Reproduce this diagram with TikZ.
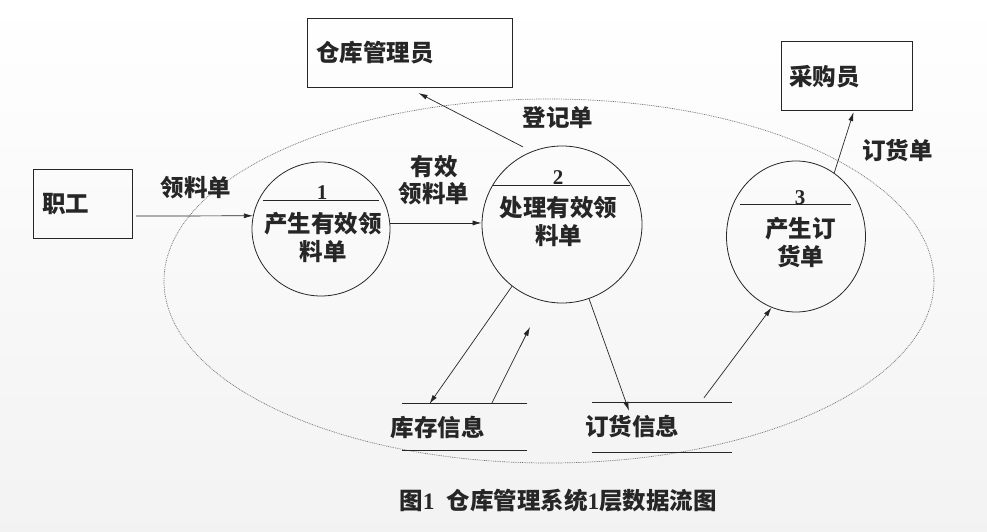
\documentclass[tikz,border=0pt]{standalone}
\usepackage{fontspec}
\setmainfont{Noto Sans CJK SC}
\newfontfamily\numfont{Liberation Serif}
\usetikzlibrary{arrows.meta,shapes.geometric}
\definecolor{ink}{HTML}{262626}
\begin{document}
\begin{tikzpicture}[x=1pt,y=-1pt,
  box/.style={draw=ink, line width=1.1pt, rectangle, inner sep=0pt},
  proc/.style={draw=ink, line width=0.8pt, ellipse, inner sep=0pt},
  flow/.style={draw=ink, line width=0.7pt, -{Latex[length=9pt,width=5pt]}},
  lbl/.style={font=\fontsize{23.5}{27}\selectfont\bfseries, text=ink, align=center, inner sep=0pt},
  ptxt/.style={font=\fontsize{23.5}{28}\selectfont\bfseries, text=ink, align=center, inner sep=0pt},
  num/.style={font=\numfont\fontsize{21}{21}\selectfont\bfseries, text=ink, inner sep=0pt},
  store/.style={rectangle, inner sep=0pt},
  sline/.style={draw=ink, line width=0.8pt}]
\useasboundingbox (0,0) rectangle (987,532);
\shade[top color=white, bottom color=black!5] (0,0) rectangle (987,532);

% system boundary
\draw[black!55, line width=0.7pt, dash pattern=on 0.9pt off 0.9pt] (549,281) ellipse [x radius=385, y radius=182];

% external entities
\node[box, minimum width=99, minimum height=69, anchor=north west] (zg) at (33,169) {};
\node[lbl, anchor=west] (zgt) at (42,204) {职工};
\node[box, minimum width=205, minimum height=69, anchor=north west] (wm) at (307,18) {};
\node[lbl, anchor=west] (wmt) at (316,53) {仓库管理员};
\node[box, minimum width=131, minimum height=69, anchor=north west] (cg) at (781,41) {};
\node[lbl, anchor=west] (cgt) at (789,77) {采购员};

% processes
\node[proc, minimum width=138, minimum height=134] (c1) at (321,229) {};
\draw[sline] (263,200) -- (379,200);
\node[num] (n1) at (322,193) {1};
\node[ptxt] (p1) at (323,237) {产生有效领\\料单};

\node[proc, minimum width=160, minimum height=157] (c2) at (562,224.5) {};
\draw[sline] (493,185) -- (630,185);
\node[num] (n2) at (558,178) {2};
\node[ptxt] (p2) at (558.5,221) {处理有效领\\料单};

\node[proc, minimum width=139, minimum height=151] (c3) at (796,236.5) {};
\draw[sline] (740,204) -- (851,204);
\node[num] (n3) at (800,198) {3};
\node[ptxt] (p3) at (800.5,243) {产生订\\货单};

% data stores
\node[store, minimum width=125, minimum height=46] (kc) at (464.5,427) {};
\draw[sline] (kc.north west) -- (kc.north east);
\draw[sline] (kc.south west) -- (kc.south east);
\node[lbl] (kct) at (437.5,427) {库存信息};
\node[store, minimum width=140, minimum height=49] (dh) at (662,427.5) {};
\draw[sline] (dh.north west) -- (dh.north east);
\draw[sline] (dh.south west) -- (dh.south east);
\node[lbl] (dht) at (632,426) {订货信息};

\coordinate (k2) at (530,327);

% flows
\draw[flow] ([shift={(3,12)}]zg.east) -- (c1.169);
\node[lbl] (f1) at (196,188) {领料单};
\draw[flow] (c1.5) -- (c1.5 -| c2.west);
\node[lbl] (f2) at (434,180) {有效\\领料单};
\draw[flow] ([shift={(-3,-7)}]c2.117) -- ([shift={(8.5,5)}]wm.south);
\node[lbl] (f3) at (558,118) {登记单};
\draw[flow] (c3.59) -- ([shift={(6.5,1)}]cg.south);
\node[lbl] (f4) at (897.5,150) {订货单};
\draw[flow] (c2.231) -- ([xshift=-35]kc.north);
\draw[flow] ([xshift=27]kc.north) -- (k2);
\draw[flow] (c2.290) -- ([shift={(-33,8)}]dh.north);
\draw[flow] ([shift={(42,-5)}]dh.north) -- (c3.251);

% caption
\node[lbl] (cap) at (558,501) {图{\numfont\bfseries 1}\hspace{12pt}仓库管理系统{\numfont\bfseries 1}层数据流图};
\end{tikzpicture}
\end{document}
